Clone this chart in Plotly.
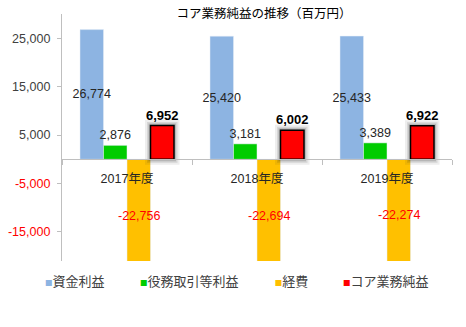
import plotly.graph_objects as go

categories = ["2017年度", "2018年度", "2019年度"]
shikin_rieki = [26774, 25420, 25433]
ekimu_rieki = [2876, 3181, 3389]
keihi = [-22756, -22694, -22274]
core_junrieki = [6952, 6002, 6922]

series_names = ["資金利益", "役務取引等利益", "経費", "コア業務純益"]
colors = ["#8db4e2", "#00cc00", "#ffc000", "#ff0000"]

y_range = [-21000, 30000]
y_ticks = [-15000, -5000, 5000, 15000, 25000]

NUM_FONT = "Liberation Sans, Arial, sans-serif"
JP_FONT = "Liberation Sans, Noto Sans CJK JP, sans-serif"

W, H = 466, 327
M = dict(l=62, r=14, t=14, b=65.6, autoexpand=False)
BARGAP = 0.277


def fmt(v):
    return f"{v:,}"


def tick_text(v):
    col = "#ff0000" if v < 0 else "#404040"
    return f'<span style="color:{col}">{fmt(v)}</span>'


fig = go.Figure()

fig.add_trace(go.Bar(
    x=categories, y=shikin_rieki, name=series_names[0], offsetgroup="g1",
    marker=dict(color=colors[0]), showlegend=False,
    text=[fmt(v) for v in shikin_rieki], textposition="inside",
    insidetextanchor="middle", textangle=0, constraintext="none",
    textfont=dict(family=NUM_FONT, size=12.5, color="#262626"),
))
fig.add_trace(go.Bar(
    x=categories, y=ekimu_rieki, name=series_names[1], offsetgroup="g2",
    marker=dict(color=colors[1]), showlegend=False,
    text=[fmt(v) for v in ekimu_rieki], textposition="outside",
    textangle=0, constraintext="none", cliponaxis=False,
    textfont=dict(family=NUM_FONT, size=12.5, color="#262626"),
))
fig.add_trace(go.Bar(
    x=categories, y=keihi, name=series_names[2], offsetgroup="g3",
    marker=dict(color=colors[2]), showlegend=False,
    textposition="none",
))
# soft shadow behind the core-profit bars (same data, same slot)
for lw, alpha in [(11, 0.08), (7, 0.12), (4, 0.18)]:
    fig.add_trace(go.Bar(
        x=categories, y=core_junrieki, offsetgroup="g4",
        marker=dict(color="rgba(0,0,0,0)", line=dict(color=f"rgba(40,40,40,{alpha})", width=lw)),
        showlegend=False, hoverinfo="skip", textposition="none",
    ))
fig.add_trace(go.Bar(
    x=categories, y=core_junrieki, name=series_names[3], offsetgroup="g4",
    marker=dict(color=colors[3], line=dict(color="#000000", width=1.5)),
    showlegend=False,
    text=[f"<b>{fmt(v)}</b>" for v in core_junrieki], textposition="outside",
    textangle=0, constraintext="none", cliponaxis=False,
    textfont=dict(family=NUM_FONT, size=13, color="#000000"),
))

# labels of the expense bars (centred on each bar, drawn over the clipped part)
plot_w = W - M["l"] - M["r"]
bar_w = plot_w / len(categories) * (1 - BARGAP) / 4
keihi_shift = bar_w * 0.5  # third of four bars: centre is half a bar right of the category centre
for cat, v in zip(categories, keihi):
    fig.add_annotation(
        x=cat, y=v / 2, xref="x", yref="y", xshift=keihi_shift, yshift=-2,
        text=fmt(v), showarrow=False,
        font=dict(family=NUM_FONT, size=12.5, color="#ff0000"),
    )

# legend entries (one legend each, to place them like the original)
legend_keys = ["legend", "legend2", "legend3", "legend4"]
legend_x = [-0.146, 0.0974, 0.4428, 0.618]
for name, col, key in zip(series_names, colors, legend_keys):
    fig.add_trace(go.Scatter(
        x=[None], y=[None], mode="markers", legend=key,
        name=f'<span style="font-size:7.5px;color:{col}">■</span>{name}',
        marker=dict(size=1, color="rgba(0,0,0,0)"),
        showlegend=True, hoverinfo="skip",
    ))

legend_common = dict(
    orientation="h", y=-0.079, yanchor="middle", xanchor="left",
    bgcolor="rgba(0,0,0,0)", borderwidth=0,
    font=dict(family="Noto Sans CJK JP, sans-serif", size=13, color="#404040"),
)
layout_legends = {}
for key, lx in zip(legend_keys, legend_x):
    layout_legends[key] = dict(legend_common, x=lx)

zero_pos = (0 - y_range[0]) / (y_range[1] - y_range[0])

fig.update_layout(
    width=W, height=H,
    margin=M,
    paper_bgcolor="white", plot_bgcolor="white",
    barmode="group", bargap=BARGAP, bargroupgap=0,
    title=dict(
        text="コア業務純益の推移（百万円）",
        x=0.518, xref="paper", xanchor="center",
        y=1 - 14 / H, yref="container", yanchor="middle",
        font=dict(family="Noto Sans CJK JP, sans-serif", size=12.5, color="#000000"),
    ),
    xaxis=dict(
        type="category", categoryorder="array", categoryarray=categories,
        anchor="free", position=zero_pos,
        showline=True, linecolor="#bfbfbf", linewidth=1.3,
        ticks="outside", tickson="boundaries", ticklen=5, tickcolor="#bfbfbf",
        ticklabelstandoff=8,
        tickfont=dict(family=JP_FONT, size=12.5, color="#262626"),
        showgrid=False, zeroline=False,
    ),
    yaxis=dict(
        range=y_range, tickvals=y_ticks, ticktext=[tick_text(v) for v in y_ticks],
        showline=True, linecolor="#bfbfbf", linewidth=1.3,
        ticks="outside", ticklen=4, tickcolor="#bfbfbf", ticklabelstandoff=4,
        tickfont=dict(family=NUM_FONT, size=12.5, color="#404040"),
        showgrid=False, zeroline=False,
    ),
    **layout_legends,
)

fig.write_html("out.html")
